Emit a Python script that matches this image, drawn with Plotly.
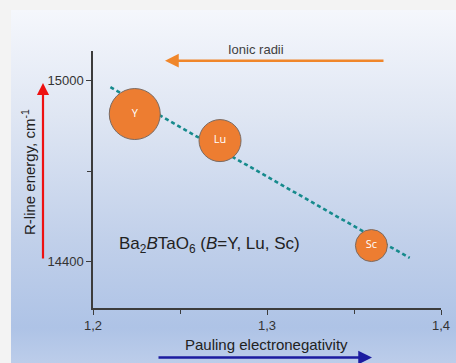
import base64
import plotly.graph_objects as go

# ---- data ----
elements = ["Y", "Lu", "Sc"]
electroneg = [1.224, 1.273, 1.360]
r_line = [14889, 14801, 14453]
bubble_size = [51, 42, 32]
fit_x = [1.210, 1.382]
fit_y = [14978, 14412]
x_range = [1.2, 1.4]
y_range = [14246, 15099]

W, H = 456, 363
def px(x):
    return x / W
def py(y):
    return 1 - y / H

FONT = "Liberation Sans, Arial, sans-serif"

fig = go.Figure()

fig.add_trace(go.Scatter(
    x=fit_x, y=fit_y, mode="lines",
    line=dict(color="#168a8c", width=2.6, dash="4px,3px"),
    hoverinfo="skip", showlegend=False))

fig.add_trace(go.Scatter(
    x=electroneg, y=r_line, mode="markers+text", text=elements,
    textposition="middle center",
    textfont=dict(color="white", size=11, family="Open Sans, Liberation Sans"),
    marker=dict(size=bubble_size, color="#ed7d31",
                line=dict(color="#7a6a62", width=1), opacity=1),
    showlegend=False))

# gradient panel background as svg image
svg = f'''<svg xmlns="http://www.w3.org/2000/svg" width="{W}" height="{H}" preserveAspectRatio="none">
<defs><linearGradient id="g" x1="0" y1="0" x2="0" y2="1">
<stop offset="0" stop-color="#f5f7fc"/>
<stop offset="0.3" stop-color="#dfe6f3"/>
<stop offset="0.65" stop-color="#c1d0ea"/>
<stop offset="0.9" stop-color="#aec3e6"/>
<stop offset="1" stop-color="#bccdea"/>
</linearGradient></defs>
<rect x="0" y="0" width="{W}" height="{H}" fill="url(#g)"/></svg>'''
uri = "data:image/svg+xml;base64," + base64.b64encode(svg.encode()).decode()
fig.add_layout_image(dict(source=uri, xref="paper", yref="paper",
                          x=px(11), y=py(10), sizex=1 - px(11), sizey=py(10),
                          xanchor="left", yanchor="top", sizing="stretch",
                          layer="below"))

axis_common = dict(showline=True, linecolor="#3c3c3c", linewidth=1.5,
                   ticks="outside", ticklen=5, tickwidth=1.3, tickcolor="#3c3c3c",
                   showgrid=False, zeroline=False, automargin=False,
                   tickfont=dict(family=FONT, size=13, color="#333333"))

fig.update_layout(
    width=W, height=H,
    margin=dict(l=0, r=0, t=0, b=0, pad=0),
    paper_bgcolor="#f3f3f3", plot_bgcolor="rgba(0,0,0,0)",
    separators=",.",
    xaxis=dict(domain=[px(93), px(441)], range=x_range, dtick=0.1, tick0=1.2,
               tickformat=".1f",
               minor=dict(dtick=0.05, ticks="outside", ticklen=4, tickcolor="#3c3c3c"),
               **axis_common),
    yaxis=dict(domain=[py(308), py(50.7)], range=y_range, dtick=600, tick0=14400,
               tickformat="d",
               minor=dict(dtick=300, ticks="outside", ticklen=4, tickcolor="#3c3c3c"),
               **axis_common),
    font=dict(family=FONT),
)

ann = [
    dict(text="Ionic radii", x=px(256), y=py(49), font=dict(size=13, color="#404040")),
    dict(text="", x=px(165), y=py(60.7), ax=220, ay=0, showarrow=True,
         arrowhead=2, arrowsize=1.1, arrowwidth=2.5, arrowcolor="#f0862a"),
    dict(text="", x=px(43), y=py(83), ax=0, ay=177, showarrow=True,
         arrowhead=2, arrowsize=1.1, arrowwidth=2.2, arrowcolor="#ee1111"),
    dict(text="", x=px(372), y=py(357.5), ax=-215, ay=0, showarrow=True,
         arrowhead=2, arrowsize=1.1, arrowwidth=2.5, arrowcolor="#1c1ca0"),
    dict(text="R-line energy, cm<sup>-1</sup>", x=px(28), y=py(172), textangle=-90,
         font=dict(size=15, color="#222222")),
    dict(text="Pauling electronegativity", x=px(266), y=py(344),
         font=dict(size=15, color="#222222")),
    dict(text="Ba<sub>2</sub><i>B</i>TaO<sub>6</sub> (<i>B</i>=Y, Lu, Sc)",
         x=px(209), y=py(245), font=dict(size=17, color="#222222")),
]
for a in ann:
    a.setdefault("showarrow", False)
    a.update(xref="paper", yref="paper", xanchor="center", yanchor="middle")
    if a.get("showarrow"):
        a.update(axref="pixel", ayref="pixel")
    fig.add_annotation(**a)

fig.write_html("out.html")
